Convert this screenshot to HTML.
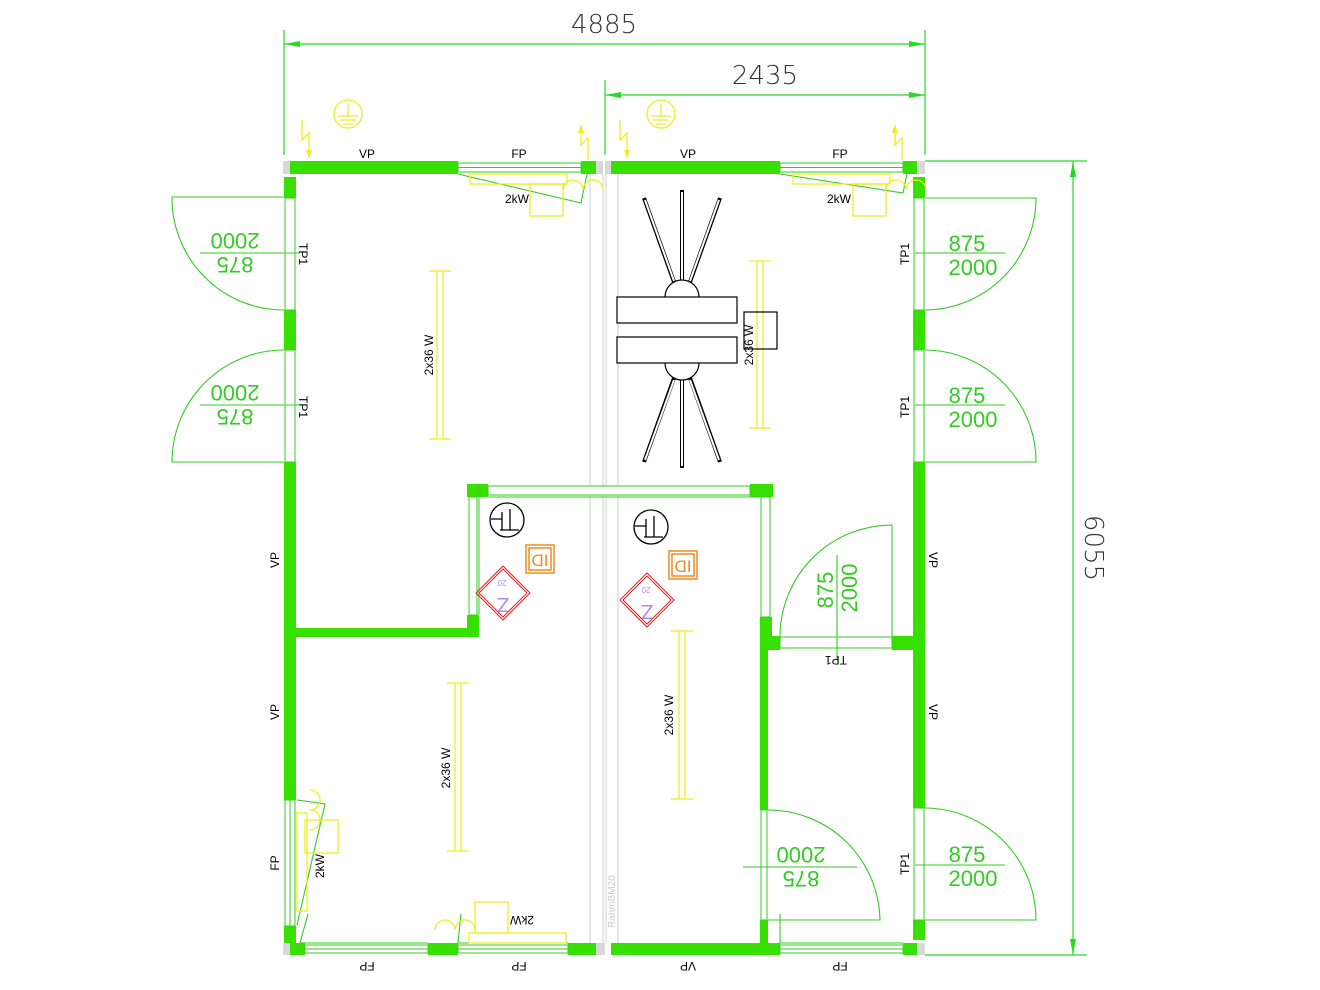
<!DOCTYPE html>
<html><head><meta charset="utf-8"><style>
html,body{margin:0;padding:0;background:#fff;}
svg{display:block;}
text{font-family:"Liberation Sans",sans-serif;}
.lab{font-size:12px;fill:#000;}
.dim{font-family:"DejaVu Sans","Liberation Sans",sans-serif;font-weight:200;fill:#333;font-size:26px;}
.dg{font-family:"DejaVu Sans","Liberation Sans",sans-serif;font-weight:200;fill:#33cc22;font-size:22px;}
</style></head><body>
<svg width="1320" height="990" viewBox="0 0 1320 990" xmlns="http://www.w3.org/2000/svg">
<rect width="1320" height="990" fill="#fff"/>
<g stroke="#22dd22" stroke-width="1.2" fill="none">
<line x1="284" y1="30" x2="284" y2="155"/><line x1="925" y1="30" x2="925" y2="155"/>
<line x1="284" y1="44" x2="925" y2="44"/>
<line x1="605" y1="80" x2="605" y2="155"/>
<line x1="605" y1="95" x2="925" y2="95"/>
<line x1="925" y1="161" x2="1087" y2="161"/><line x1="925" y1="955" x2="1087" y2="955"/>
<line x1="1073" y1="161" x2="1073" y2="955"/>
</g>
<g fill="#22dd22">
<polygon points="284,44 300,41 300,47"/><polygon points="925,44 909,41 909,47"/>
<polygon points="605,95 621,92 621,98"/><polygon points="925,95 909,92 909,98"/>
<polygon points="1073,161 1070,177 1076,177"/><polygon points="1073,955 1070,939 1076,939"/>
</g>
<text class="dim" x="604" y="33" text-anchor="middle">4885</text>
<text class="dim" x="765" y="84" text-anchor="middle">2435</text>
<text class="dim" transform="translate(1085,548) rotate(90)" text-anchor="middle">6055</text>

<g stroke="#eeee22" stroke-width="1.3" fill="none">
<circle cx="348" cy="114" r="14"/><line x1="348" y1="104" x2="348" y2="116"/><line x1="338" y1="116" x2="358" y2="116"/><line x1="340" y1="120" x2="356" y2="120"/><line x1="343" y1="124" x2="353" y2="124"/>
<circle cx="661" cy="114" r="14"/><line x1="661" y1="104" x2="661" y2="116"/><line x1="651" y1="116" x2="671" y2="116"/><line x1="653" y1="120" x2="669" y2="120"/><line x1="656" y1="124" x2="666" y2="124"/>
<polyline points="302,120 302,140 309,133 309,158"/>
<polyline points="620,120 620,140 627,133 627,158"/>
<polyline points="581,125 581,145 588,138 588,160"/>
<polyline points="895,125 895,145 902,138 902,160"/>
</g>
<g fill="#eeee22"><polygon points="306,150 312,150 309,158"/><polygon points="624,150 630,150 627,158"/><polygon points="578,133 584,133 581,124"/><polygon points="892,133 898,133 895,124"/></g>

<g stroke="#cccccc" stroke-width="1" fill="none">
<line x1="590" y1="174" x2="590" y2="943"/><line x1="603" y1="174" x2="603" y2="943"/>
<line x1="606" y1="174" x2="606" y2="943"/><line x1="618" y1="174" x2="618" y2="943"/>
</g>
<text transform="translate(615,928) rotate(-90)" font-size="10" fill="#cccccc">RahmBM20</text>

<g fill="#d8d8d8">
<rect x="283" y="161" width="7" height="13"/><rect x="596" y="161" width="7" height="13"/>
<rect x="605" y="161" width="6" height="13"/><rect x="917" y="161" width="8" height="13"/>
<rect x="283" y="943" width="7" height="12"/><rect x="596" y="943" width="9" height="12"/><rect x="917" y="943" width="8" height="12"/>
</g>
<g fill="#38e000">
<rect x="290" y="161" width="168" height="13"/><rect x="581" y="161" width="15" height="13"/>
<rect x="611" y="161" width="169" height="13"/><rect x="903" y="161" width="14" height="13"/>
<rect x="290" y="943" width="15" height="12"/><rect x="428" y="943" width="30" height="12"/><rect x="568" y="943" width="28" height="12"/>
<rect x="611" y="943" width="169" height="12"/><rect x="903" y="943" width="14" height="12"/>
<rect x="284" y="177" width="12" height="21"/><rect x="284" y="310" width="12" height="40"/><rect x="284" y="462" width="12" height="338"/><rect x="284" y="926" width="12" height="17"/>
<rect x="913" y="177" width="12" height="21"/><rect x="913" y="310" width="12" height="40"/><rect x="913" y="462" width="12" height="346"/><rect x="913" y="920" width="12" height="20"/>
<rect x="296" y="628" width="183" height="9"/>
<rect x="467" y="484" width="21" height="13"/><rect x="467" y="615" width="12" height="22"/>
<rect x="750" y="484" width="23" height="13"/>
<rect x="760" y="617" width="12" height="33"/><rect x="772" y="636" width="8" height="14"/><rect x="892" y="636" width="21" height="14"/>
<rect x="760" y="650" width="8" height="160"/><rect x="760" y="920" width="8" height="23"/>
</g>
<g stroke="#33cc22" stroke-width="1" fill="#fff">
<rect x="458" y="163" width="123" height="9"/><line x1="458" y1="167.5" x2="581" y2="167.5"/>
<rect x="780" y="163" width="123" height="9"/><line x1="780" y1="167.5" x2="903" y2="167.5"/>
<rect x="305" y="945" width="123" height="8"/><line x1="305" y1="949" x2="428" y2="949"/>
<rect x="458" y="945" width="110" height="8"/><line x1="458" y1="949" x2="568" y2="949"/>
<rect x="780" y="945" width="123" height="8"/><line x1="780" y1="949" x2="903" y2="949"/>
<rect x="285" y="800" width="10" height="126"/><line x1="290" y1="800" x2="290" y2="926"/>
<rect x="285" y="198" width="10" height="112"/><rect x="285" y="350" width="10" height="112"/>
<rect x="914" y="198" width="10" height="112"/><rect x="914" y="350" width="10" height="112"/><rect x="914" y="808" width="10" height="112"/>
<rect x="469" y="497" width="8" height="118"/>
<rect x="488" y="486" width="262" height="9"/>
<rect x="761" y="497" width="9" height="120"/>
<rect x="780" y="637" width="112" height="11"/>
<rect x="761" y="810" width="6" height="110"/>
<line x1="479" y1="484" x2="479" y2="615"/><line x1="488" y1="497" x2="760" y2="497"/>
</g>
<g stroke="#33cc22" stroke-width="1.1" fill="none">
<path d="M284,197 L172,197 A112,112 0 0 0 284,310"/>
<path d="M284,462 L172,462 A112,112 0 0 1 284,350"/>
<path d="M925,198 L1036,198 A112,112 0 0 1 925,310"/>
<path d="M925,462 L1036,462 A112,112 0 0 0 925,350"/>
<path d="M925,920 L1036,920 A112,112 0 0 0 925,808"/>
<path d="M780,636 A112,112 0 0 1 892,525 L892,636"/>
<path d="M768,810 A112,112 0 0 1 880,920 L768,920"/>
<line x1="200" y1="253" x2="300" y2="253"/><line x1="200" y1="405" x2="300" y2="405"/>
<line x1="915" y1="253" x2="1005" y2="253"/><line x1="915" y1="405" x2="1005" y2="405"/><line x1="915" y1="865" x2="1005" y2="865"/>
<line x1="837" y1="555" x2="837" y2="660"/><line x1="743" y1="867" x2="857" y2="867"/>
<polyline points="458,174 581,203 587,174"/>
<polyline points="780,174 903,193 907,174"/>
<polyline points="297,800 325,804 297,925"/>
<polyline points="308,914 300,943 428,943"/>
<polyline points="461,914 458,943 568,943"/>
<polyline points="780,914 780,943 903,943"/>
</g>
<g class="dg">
<text transform="translate(235,253) rotate(180)" text-anchor="middle"><tspan x="0" y="-4">875</tspan><tspan x="0" y="20">2000</tspan></text>
<text transform="translate(235,405) rotate(180)" text-anchor="middle"><tspan x="0" y="-4">875</tspan><tspan x="0" y="20">2000</tspan></text>
<text x="967" y="251" text-anchor="middle">875</text><text x="973" y="275" text-anchor="middle">2000</text>
<text x="967" y="403" text-anchor="middle">875</text><text x="973" y="427" text-anchor="middle">2000</text>
<text x="967" y="862" text-anchor="middle">875</text><text x="973" y="886" text-anchor="middle">2000</text>
<text transform="translate(833,590) rotate(-90)" text-anchor="middle">875</text>
<text transform="translate(857,588) rotate(-90)" text-anchor="middle">2000</text>
<text transform="translate(801,867) rotate(180)" text-anchor="middle"><tspan x="0" y="-4">875</tspan><tspan x="0" y="20">2000</tspan></text>
</g>

<g class="lab">
<text x="367" y="158" text-anchor="middle">VP</text><text x="519" y="158" text-anchor="middle">FP</text>
<text x="688" y="158" text-anchor="middle">VP</text><text x="840" y="158" text-anchor="middle">FP</text>
<text transform="translate(299,254) rotate(90)" text-anchor="middle">TP1</text>
<text transform="translate(299,407) rotate(90)" text-anchor="middle">TP1</text>
<text transform="translate(909,254) rotate(-90)" text-anchor="middle">TP1</text>
<text transform="translate(909,407) rotate(-90)" text-anchor="middle">TP1</text>
<text transform="translate(909,864) rotate(-90)" text-anchor="middle">TP1</text>
<text transform="translate(836,656) rotate(180)" text-anchor="middle">TP1</text>
<text transform="translate(279,560) rotate(-90)" text-anchor="middle">VP</text>
<text transform="translate(279,712) rotate(-90)" text-anchor="middle">VP</text>
<text transform="translate(279,863) rotate(-90)" text-anchor="middle">FP</text>
<text transform="translate(929,560) rotate(90)" text-anchor="middle">VP</text>
<text transform="translate(929,712) rotate(90)" text-anchor="middle">VP</text>
<text transform="translate(367,962) rotate(180)" text-anchor="middle">FP</text>
<text transform="translate(519,962) rotate(180)" text-anchor="middle">FP</text>
<text transform="translate(688,962) rotate(180)" text-anchor="middle">VP</text>
<text transform="translate(840,962) rotate(180)" text-anchor="middle">FP</text>
<text x="517" y="203" text-anchor="middle">2kW</text>
<text x="839" y="203" text-anchor="middle">2kW</text>
<text transform="translate(324,866) rotate(-90)" text-anchor="middle">2kW</text>
<text transform="translate(522,916) rotate(180)" text-anchor="middle">2kW</text>
<text transform="translate(433,355) rotate(-90)" text-anchor="middle">2x36 W</text>
<text transform="translate(753,345) rotate(-90)" text-anchor="middle">2x36 W</text>
<text transform="translate(450,768) rotate(-90)" text-anchor="middle">2x36 W</text>
<text transform="translate(673,715) rotate(-90)" text-anchor="middle">2x36 W</text>
</g>

<g stroke="#eeee22" stroke-width="1.3" fill="none">
<line x1="437" y1="271" x2="437" y2="439"/><line x1="443" y1="271" x2="443" y2="439"/><line x1="429" y1="271" x2="451" y2="271"/><line x1="429" y1="439" x2="451" y2="439"/>
<line x1="757" y1="261" x2="757" y2="428"/><line x1="763" y1="261" x2="763" y2="428"/><line x1="749" y1="261" x2="771" y2="261"/><line x1="749" y1="428" x2="771" y2="428"/>
<line x1="455" y1="683" x2="455" y2="851"/><line x1="461" y1="683" x2="461" y2="851"/><line x1="447" y1="683" x2="469" y2="683"/><line x1="447" y1="851" x2="469" y2="851"/>
<line x1="679" y1="631" x2="679" y2="799"/><line x1="685" y1="631" x2="685" y2="799"/><line x1="671" y1="631" x2="693" y2="631"/><line x1="671" y1="799" x2="693" y2="799"/>
<rect x="470" y="174" width="97" height="10"/><rect x="530" y="184" width="33" height="32"/><path d="M563,190 a10,10 0 0 1 20,0 a10,10 0 0 1 20,0"/>
<rect x="793" y="174" width="97" height="10"/><rect x="853" y="184" width="33" height="32"/><path d="M886,190 a10,10 0 0 1 20,0 a10,10 0 0 1 20,0"/>
<rect x="297" y="813" width="10" height="98"/><rect x="305" y="820" width="33" height="33"/><path d="M310,790 a10,10 0 0 1 0,20 a10,10 0 0 1 0,20"/>
<rect x="469" y="933" width="97" height="10"/><rect x="475" y="902" width="33" height="31"/><path d="M435,930 a10,10 0 0 1 20,0 a10,10 0 0 1 20,0"/>
</g>

<g stroke="#000" stroke-width="1.2" fill="#fff">
<g stroke-width="4" stroke="#000"><line x1="682" y1="190" x2="682" y2="285"/><line x1="644" y1="198" x2="674" y2="282"/><line x1="720" y1="198" x2="690" y2="282"/>
<line x1="682" y1="378" x2="682" y2="468"/><line x1="644" y1="462" x2="674" y2="378"/><line x1="720" y1="462" x2="690" y2="378"/></g>
<g stroke-width="2" stroke="#fff"><line x1="682" y1="192" x2="682" y2="283"/><line x1="645" y1="200" x2="674" y2="281"/><line x1="719" y1="200" x2="690" y2="281"/>
<line x1="682" y1="380" x2="682" y2="466"/><line x1="645" y1="460" x2="674" y2="380"/><line x1="719" y1="460" x2="690" y2="380"/></g>
<circle cx="682" cy="297" r="17"/><circle cx="682" cy="363" r="17"/>
<rect x="617" y="297" width="120" height="26"/><rect x="617" y="337" width="120" height="26"/>
<rect x="744" y="312" width="33" height="37" fill="none"/>
</g>

<g stroke="#000" stroke-width="1.3" fill="none">
<circle cx="507" cy="520" r="17"/><line x1="500" y1="530" x2="519" y2="530"/><line x1="510" y1="509" x2="510" y2="530"/><path d="M502,512 v18 M491,519 h11"/>
<circle cx="651" cy="527" r="17"/><line x1="644" y1="537" x2="663" y2="537"/><line x1="654" y1="516" x2="654" y2="537"/><path d="M646,519 v18 M635,526 h11"/>
</g>
<g stroke="#f08a20" stroke-width="1.5" fill="none">
<rect x="526" y="545" width="28" height="28"/><rect x="529" y="548" width="22" height="22"/>
<rect x="669" y="551" width="28" height="28"/><rect x="672" y="554" width="22" height="22"/>
</g>
<text transform="translate(540,559) rotate(180)" font-size="17" fill="#f08a20" text-anchor="middle" dominant-baseline="middle">ID</text>
<text transform="translate(683,565) rotate(180)" font-size="17" fill="#f08a20" text-anchor="middle" dominant-baseline="middle">ID</text>
<g stroke="#dd2222" stroke-width="1" fill="none">
<polygon points="503,566 530,593 503,620 476,593"/><polygon points="503,569 527,593 503,617 479,593"/>
<polygon points="647,573 674,600 647,627 620,600"/><polygon points="647,576 671,600 647,624 623,600"/>
</g>
<text transform="translate(503,598) rotate(180)" font-size="20" fill="#b088ee" text-anchor="middle">Z</text>
<text transform="translate(502,580) rotate(180)" font-size="8" fill="#b088ee" text-anchor="middle">20</text>
<text transform="translate(647,605) rotate(180)" font-size="20" fill="#b088ee" text-anchor="middle">Z</text>
<text transform="translate(646,587) rotate(180)" font-size="8" fill="#b088ee" text-anchor="middle">20</text>
</svg>
</body></html>
